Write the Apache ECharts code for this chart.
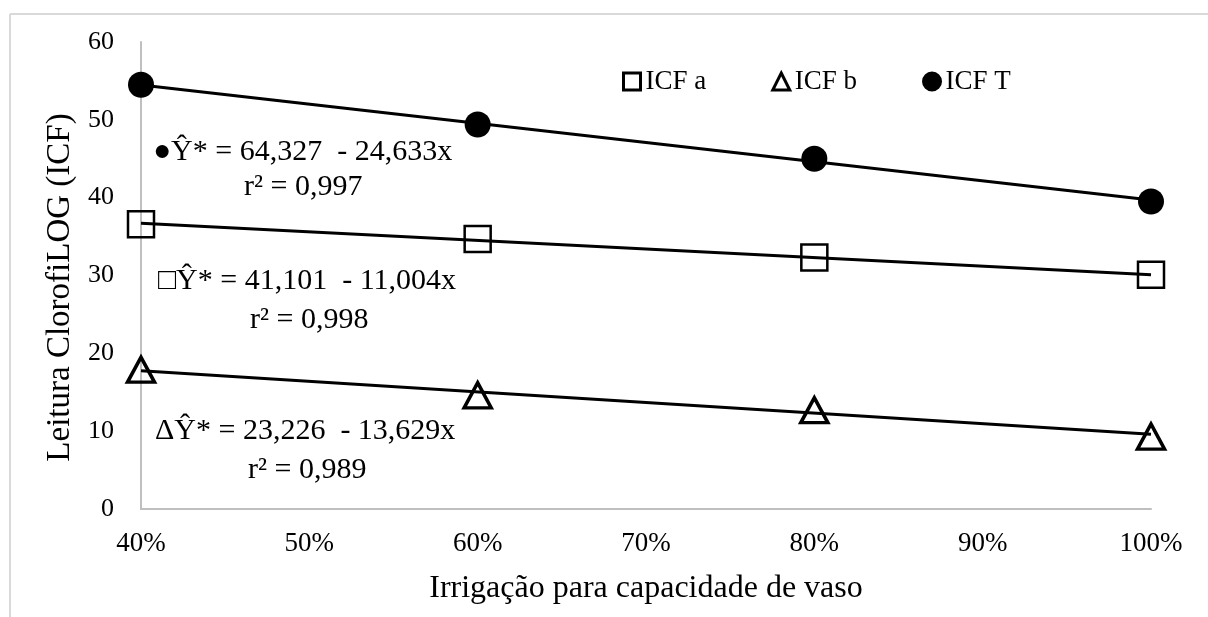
<!DOCTYPE html>
<html>
<head>
<meta charset="utf-8">
<script src="https://cdn.jsdelivr.net/npm/echarts@6/dist/echarts.min.js"></script>
<style>
html,body{margin:0;padding:0;background:#fff;}
#c{width:1208px;height:617px;}
</style>
</head>
<body>
<div id="c"></div>
<script>
// Data
const xValues = [40, 60, 80, 100];
const icfA = [36.6, 34.7, 32.3, 30.1];
const icfB = [17.9, 14.6, 12.7, 9.3];
const icfT = [54.5, 49.4, 45.0, 39.5];
// Fitted regression lines (endpoints at 40% and 100%)
const trendX = [40, 100];
const trendA = [36.70, 30.10];
const trendB = [17.77, 9.60];
const trendT = [54.47, 39.69];
const seriesNames = ['ICF a', 'ICF b', 'ICF T'];
const equations = [
  '●Ŷ* = 64,327  - 24,633x', 'r² = 0,997',
  '□Ŷ* = 41,101  - 11,004x', 'r² = 0,998',
  'ΔŶ* = 23,226  - 13,629x', 'r² = 0,989'
];

const FONT = '"Liberation Serif", "Times New Roman", serif';
const pairs = (xs, ys) => xs.map((x, i) => [x, ys[i]]);

const chart = echarts.init(document.getElementById('c'), null, {renderer: 'canvas'});

function trendSeries(ys) {
  return {
    type: 'line', data: pairs(trendX, ys), symbol: 'none', silent: true,
    lineStyle: {color: '#000', width: 3}, z: 2
  };
}

const eqStyle = {fontFamily: FONT, fontSize: 30, fill: '#000'};

chart.setOption({
  animation: false,
  backgroundColor: '#fff',
  grid: {left: 141, right: 57, top: 42, bottom: 108},
  legend: {
    data: seriesNames,
    left: 617, top: 63,
    itemWidth: 17, itemHeight: 17, itemGap: 65,
    itemStyle: {borderWidth: 3},
    textStyle: {fontFamily: FONT, fontSize: 27, color: '#000'}
  },
  xAxis: {
    type: 'value', min: 40, max: 100, interval: 10,
    name: 'Irrigação para capacidade de vaso',
    nameLocation: 'middle', nameGap: 64,
    nameTextStyle: {fontFamily: FONT, fontSize: 32, color: '#000'},
    axisLine: {show: true, lineStyle: {color: '#bfbfbf', width: 2}},
    axisTick: {show: false},
    splitLine: {show: false},
    axisLabel: {fontFamily: FONT, fontSize: 27, color: '#000', margin: 21, formatter: '{value}%'}
  },
  yAxis: {
    type: 'value', min: 0, max: 60, interval: 10,
    name: 'Leitura ClorofiLOG (ICF)',
    nameLocation: 'middle', nameGap: 62, nameRotate: 90,
    nameTextStyle: {fontFamily: FONT, fontSize: 33, color: '#000', padding: [0, 24, 0, 0]},
    axisLine: {show: true, lineStyle: {color: '#bfbfbf', width: 2}},
    axisTick: {show: false},
    splitLine: {show: false},
    axisLabel: {fontFamily: FONT, fontSize: 26, color: '#000', margin: 27}
  },
  series: [
    trendSeries(trendA), trendSeries(trendB), trendSeries(trendT),
    {
      name: seriesNames[0], type: 'scatter', data: pairs(xValues, icfA),
      symbol: 'rect', symbolSize: 26, z: 3,
      itemStyle: {color: 'rgba(255,255,255,0)', borderColor: '#000', borderWidth: 2.5, opacity: 1}
    },
    {
      name: seriesNames[1], type: 'scatter', data: pairs(xValues, icfB),
      symbol: 'triangle', symbolSize: [27, 25], z: 3,
      itemStyle: {color: 'rgba(255,255,255,0)', borderColor: '#000', borderWidth: 3.5, opacity: 1}
    },
    {
      name: seriesNames[2], type: 'scatter', data: pairs(xValues, icfT),
      symbol: 'circle', symbolSize: 26, z: 3,
      itemStyle: {color: '#000', borderColor: '#000', borderWidth: 0, opacity: 1}
    }
  ],
  graphic: [
    {type: 'line', shape: {x1: 10, y1: 14, x2: 1208, y2: 14}, style: {stroke: '#d9d9d9', lineWidth: 2}, silent: true},
    {type: 'line', shape: {x1: 10, y1: 14, x2: 10, y2: 617}, style: {stroke: '#d9d9d9', lineWidth: 2}, silent: true},
    {type: 'text', left: 153, top: 137, style: Object.assign({text: equations[0]}, eqStyle)},
    {type: 'text', left: 244, top: 172, style: Object.assign({text: equations[1]}, eqStyle)},
    {type: 'text', left: 158, top: 266, style: Object.assign({text: equations[2]}, eqStyle)},
    {type: 'text', left: 250, top: 305, style: Object.assign({text: equations[3]}, eqStyle)},
    {type: 'text', left: 155, top: 416, style: Object.assign({text: equations[4]}, eqStyle)},
    {type: 'text', left: 248, top: 455, style: Object.assign({text: equations[5]}, eqStyle)}
  ]
});
</script>
</body>
</html>
